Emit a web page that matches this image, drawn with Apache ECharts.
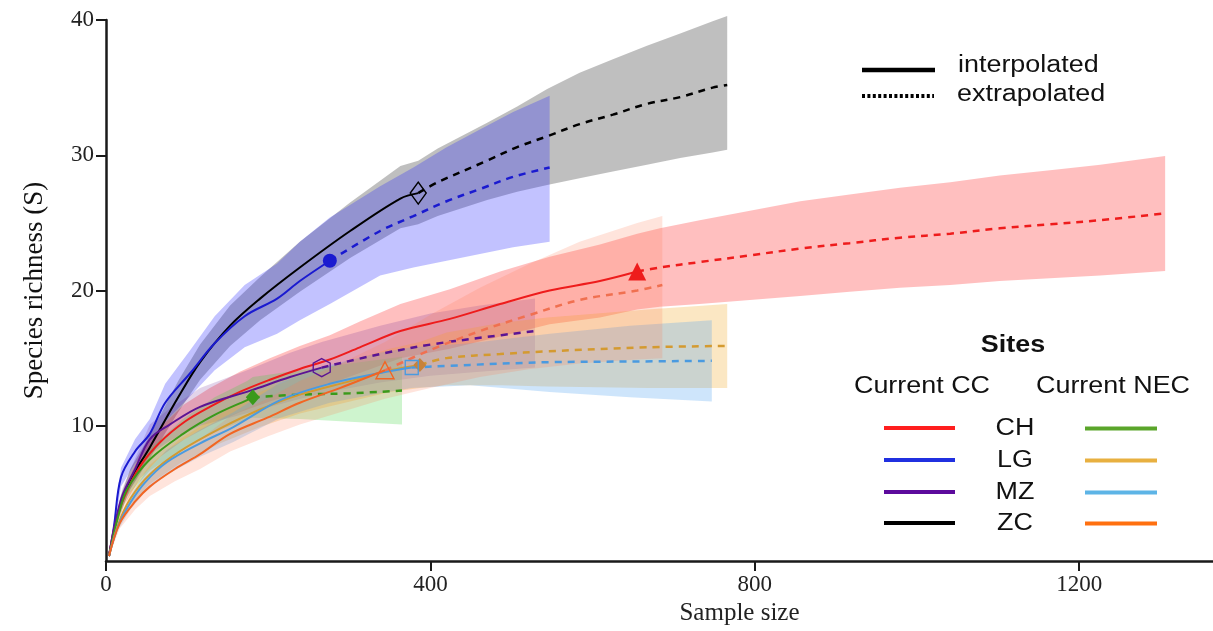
<!DOCTYPE html>
<html><head><meta charset="utf-8">
<script src="https://cdn.jsdelivr.net/npm/echarts@6/dist/echarts.min.js"></script>
<style>html,body{margin:0;padding:0;background:#fff}#c{width:1213px;height:631px}</style>
</head><body><div id="c"></div>
<script>
// ---------- data (x = sample size, y = species richness) ----------
// index *_split = last interpolated point (reference sample), rest extrapolated
const chCC_x    = [3.7,11,23,42,67,97,128,165,202,239,276,313,363,424,486,547,609,655,683,732,794,856,917,979,1041,1102,1164,1226,1306];
const chCC_mean = [0.37,2.6,4.8,7.0,8.8,10.3,11.4,12.5,13.4,14.2,14.9,15.8,17.0,17.9,19.0,20.0,20.7,21.4,21.7,22.1,22.6,23.1,23.5,23.9,24.2,24.6,24.9,25.2,25.7];
const chCC_lo   = [0.37,2.3,4.2,6.1,7.7,9.0,10.0,11.0,11.8,12.5,13.1,13.9,15.0,15.7,16.6,17.5,18.0,18.6,18.8,19.0,19.3,19.6,19.9,20.2,20.4,20.7,20.9,21.1,21.45];
const chCC_hi   = [0.37,2.9,5.4,7.9,9.9,11.6,12.8,14.0,15.0,15.9,16.7,17.7,19.0,20.1,21.4,22.5,23.4,24.2,24.6,25.2,25.9,26.6,27.1,27.6,28.0,28.5,28.9,29.3,29.95];
const chCC_split = 17;

const lgCC_x    = [3.7,9.9,18.5,35.8,54,73,104,134,171,211,239,276,338,379,420,461,502,547];
const lgCC_mean = [0.37,2.6,6.2,8.1,9.4,11.7,13.9,16.1,18.1,19.4,20.7,22.2,24.4,25.5,26.6,27.5,28.4,29.1];
const lgCC_lo   = [0.37,2.2,5.5,7.2,8.3,10.3,12.2,14.1,15.8,16.8,17.8,19.0,21.1,21.7,22.2,22.7,23.2,23.6];
const lgCC_hi   = [0.37,3.0,6.9,9.0,10.5,13.1,15.6,18.1,20.4,22.0,23.6,25.4,27.7,29.1,30.6,31.9,33.2,34.4];
const lgCC_split = 11;

const mzCC_x    = [3.7,11,20,36,54,79,116,178,227,266,338,400,461,529];
const mzCC_mean = [0.37,2.7,4.8,6.8,9.0,10.1,11.4,12.6,13.6,14.3,15.3,16.0,16.5,17.0];
const mzCC_lo   = [0.37,2.4,4.3,6.0,7.9,8.9,10.0,11.0,11.8,12.4,13.2,13.7,14.0,14.3];
const mzCC_hi   = [0.37,3.0,5.3,7.6,10.1,11.3,12.8,14.2,15.4,16.2,17.4,18.3,18.9,19.4];
const mzCC_split = 9;

const zcCC_x    = [3.7,17,30,54,89,116,153,190,239,301,363,385,409,470,507,544,584,625,667,708,748,766];
const zcCC_mean = [0.37,4.0,6.0,8.4,12.1,14.7,17.4,19.4,21.7,24.4,26.8,27.2,28.0,29.6,30.6,31.4,32.3,33.0,33.8,34.3,35.0,35.2];
const zcCC_lo   = [0.37,3.5,5.3,7.6,11.0,13.4,15.9,17.8,19.9,22.4,24.6,24.9,25.5,26.7,27.3,27.8,28.3,28.8,29.3,29.8,30.2,30.4];
const zcCC_hi   = [0.37,4.6,6.8,9.3,13.3,16.0,18.9,21.0,23.6,26.5,29.2,29.6,30.5,32.4,33.6,34.9,36.1,37.1,38.1,39.0,39.9,40.3];
const zcCC_split = 11;

const chNEC_x    = [3.7,15,26,54,95,134,174,181,239,301,365];
const chNEC_mean = [0.37,3.3,5.3,7.5,9.4,10.8,11.9,12.1,12.3,12.4,12.6];
const chNEC_lo   = [0.37,3.0,4.8,6.7,8.3,9.5,10.5,10.6,10.5,10.3,10.1];
const chNEC_hi   = [0.37,3.6,5.8,8.3,10.5,12.1,13.3,13.6,14.1,14.6,15.1];
const chNEC_split = 7;

const lgNEC_x    = [3.7,15,30,54,91,141,190,239,301,350,387,420,486,544,667,766];
const lgNEC_mean = [0.37,2.7,4.6,6.4,8.1,9.8,11.2,12.3,13.3,14.1,14.5,15.0,15.3,15.5,15.8,15.9];
const lgNEC_lo   = [0.37,2.4,4.1,5.7,7.2,8.7,9.9,10.9,11.8,12.5,12.8,13.0,13.0,12.9,12.8,12.8];
const lgNEC_hi   = [0.37,3.0,5.1,7.1,9.0,10.9,12.5,13.7,14.8,15.7,16.2,16.9,17.6,18.0,18.6,19.0];
const lgNEC_split = 10;

const mzNEC_x    = [3.7,15,30,48,75,116,157,215,276,338,377,449,547,646,747];
const mzNEC_mean = [0.37,2.6,4.3,5.8,7.3,8.7,9.9,11.9,13.1,13.9,14.3,14.5,14.7,14.75,14.8];
const mzNEC_lo   = [0.37,2.3,3.8,5.1,6.4,7.7,8.8,10.6,11.7,12.4,12.8,13.0,12.5,12.1,11.8];
const mzNEC_hi   = [0.37,2.9,4.8,6.5,8.2,9.7,11.0,13.2,14.5,15.4,15.8,16.1,16.8,17.4,17.8];
const mzNEC_split = 10;

const zcNEC_x    = [3.7,17,36,54,85,116,153,199,239,289,344,400,461,523,584,655,686];
const zcNEC_mean = [0.37,2.8,4.4,5.5,6.8,7.9,9.4,10.6,11.7,12.8,14.1,15.6,17.0,18.2,19.3,20.0,20.4];
const zcNEC_lo   = [0.37,2.4,3.8,4.8,5.9,6.8,8.1,9.2,10.1,11.0,12.0,12.8,13.6,14.2,14.6,14.9,15.0];
const zcNEC_hi   = [0.37,3.2,5.0,6.2,7.7,9.0,10.7,12.0,13.3,14.6,16.2,18.2,20.2,22.0,23.6,25.0,25.5];
const zcNEC_split = 10;

const siteNames  = ['CH','LG','MZ','ZC'];
const groupNames = ['Current CC','Current NEC'];
const xTicks = [0,400,800,1200];
const yTicks = [10,20,30,40];

// ---------- styling ----------
const sites = [
  {x:zcCC_x, m:zcCC_mean, lo:zcCC_lo, hi:zcCC_hi, s:zcCC_split, line:'#000000', band:'rgba(0,0,0,0.25)', sym:'diamond', size:[16,22], fill:false},
  {x:lgCC_x, m:lgCC_mean, lo:lgCC_lo, hi:lgCC_hi, s:lgCC_split, line:'#1a1ad0', band:'rgba(30,30,255,0.27)', sym:'circle', size:14, fill:true},
  {x:chCC_x, m:chCC_mean, lo:chCC_lo, hi:chCC_hi, s:chCC_split, line:'#ee1c1c', band:'rgba(255,0,0,0.25)', sym:'triangle', size:[18,18], fill:true},
  {x:mzCC_x, m:mzCC_mean, lo:mzCC_lo, hi:mzCC_hi, s:mzCC_split, line:'#5b1494', band:'rgba(110,40,150,0.2)', sym:'path://M50 0 L93.3 25 L93.3 75 L50 100 L6.7 75 L6.7 25 Z', size:[17,18], fill:false},
  {x:chNEC_x, m:chNEC_mean, lo:chNEC_lo, hi:chNEC_hi, s:chNEC_split, line:'#3a9a1a', band:'rgba(60,210,60,0.25)', sym:'diamond', size:[14,16], fill:true},
  {x:lgNEC_x, m:lgNEC_mean, lo:lgNEC_lo, hi:lgNEC_hi, s:lgNEC_split, line:'#d49a30', band:'rgba(240,170,40,0.28)', sym:'diamond', size:[13,14], fill:true, mcol:'#c8823a'},
  {x:mzNEC_x, m:mzNEC_mean, lo:mzNEC_lo, hi:mzNEC_hi, s:mzNEC_split, line:'#4a9ae0', band:'rgba(80,160,240,0.28)', sym:'rect', size:[13,14], fill:false},
  {x:zcNEC_x, m:zcNEC_mean, lo:zcNEC_lo, hi:zcNEC_hi, s:zcNEC_split, line:'#f26522', band:'rgba(255,120,80,0.2)', sym:'triangle', size:[18,17], fill:false, dcol:'#f07050'}
];

const series = [];
sites.forEach(st => {
  const pts = st.x.map((x,i)=>[x, st.lo[i], st.hi[i]]);
  series.push({
    type:'custom', silent:true, z:1, clip:false, data:pts, encode:{x:0,y:[1,2]},
    renderItem:(params, api)=>{
      if (params.dataIndex !== 0) return null;
      const poly=[];
      for (let i=0;i<pts.length;i++) poly.push(api.coord([pts[i][0], pts[i][2]]));
      for (let i=pts.length-1;i>=0;i--) poly.push(api.coord([pts[i][0], pts[i][1]]));
      return {type:'polygon', shape:{points:poly, smooth:0}, style:{fill:st.band}};
    }
  });
});
sites.forEach(st => {
  const all = st.x.map((x,i)=>[x, st.m[i]]);
  series.push({type:'line', z:3, data:all.slice(0, st.s+1), showSymbol:false, silent:true, clip:false,
    smooth:0.35, lineStyle:{color:st.line, width:2}});
  series.push({type:'line', z:3, data:all.slice(st.s), showSymbol:false, silent:true, clip:false,
    smooth:0.35, lineStyle:{color:st.dcol||st.line, width:2.5, type:[7,6]}});
});
sites.forEach(st => {
  series.push({type:'scatter', z:5, silent:true, data:[[st.x[st.s], st.m[st.s]]],
    symbol:st.sym, symbolSize:st.size,
    itemStyle: st.fill ? {color:st.mcol||st.line, opacity:1}
                       : {color:'rgba(255,255,255,0)', borderColor:st.line, borderWidth:1.4, opacity:1}});
});

// ---------- legend graphics ----------
const SANS = '"Liberation Sans", Arial, sans-serif';
function txt(x,y,t,opt){
  opt = opt||{};
  return {type:'text', x:x, y:y, scaleX:opt.sx||1.17, z:100,
    style:{text:t, fontSize:opt.fs||23, fontFamily:SANS, fontWeight:opt.fw||'normal', fill:'#111',
      align:opt.align||'left', verticalAlign:'middle'}};
}
const legendCC  = ['#ff1e1e','#2030e0','#5c0a9c','#000000'];
const legendNEC = ['#5aa52a','#e8b040','#5db4e6','#ff7010'];
const rowY = [428,460,492,523];
const graphics = [
  {type:'line', z:100, shape:{x1:862,y1:70,x2:935,y2:70}, style:{stroke:'#000', lineWidth:4.5}},
  {type:'line', z:100, shape:{x1:862,y1:96,x2:934,y2:96}, style:{stroke:'#000', lineWidth:4, lineDash:[3,2.4]}},
  txt(958,66,'interpolated'),
  txt(957,95,'extrapolated'),
  txt(1013,346,'Sites',{fw:'bold',align:'center'}),
  txt(922,387,groupNames[0],{align:'center'}),
  txt(1113,387,groupNames[1],{align:'center'})
];
siteNames.forEach((n,i)=>{
  graphics.push({type:'line', z:100, shape:{x1:884,y1:rowY[i],x2:955,y2:rowY[i]}, style:{stroke:legendCC[i], lineWidth:4}});
  graphics.push({type:'line', z:100, shape:{x1:1085,y1:rowY[i]+0.5,x2:1157,y2:rowY[i]+0.5}, style:{stroke:legendNEC[i], lineWidth:4}});
  graphics.push(txt(1015,rowY[i]+1,n,{align:'center'}));
});

const SERIF = '"Liberation Serif", "Times New Roman", serif';
const chart = echarts.init(document.getElementById('c'), null, {renderer:'canvas'});
chart.setOption({
  animation:false,
  backgroundColor:'#fff',
  grid:{left:106, right:0, top:20, bottom:66, containLabel:false},
  xAxis:{type:'value', min:0, max:1365, interval:400,
    axisLine:{onZero:true, lineStyle:{color:'#1a1a1a', width:2.5}},
    axisTick:{show:true, length:10, lineStyle:{color:'#1a1a1a', width:2}, customValues:xTicks},
    axisLabel:{customValues:xTicks, formatter:v=>String(v), fontFamily:SERIF, fontSize:23, color:'#222', margin:12},
    splitLine:{show:false},
    name:'Sample size', nameLocation:'middle', nameGap:40,
    nameTextStyle:{fontFamily:SERIF, fontSize:25, color:'#222', padding:[0,0,0,160]}},
  yAxis:{type:'value', min:0, max:40, interval:10,
    axisLine:{show:true, onZero:true, lineStyle:{color:'#1a1a1a', width:2.5}},
    axisTick:{show:true, length:10, lineStyle:{color:'#1a1a1a', width:2}, customValues:yTicks},
    axisLabel:{customValues:yTicks, formatter:v=>String(v), fontFamily:SERIF, fontSize:23, color:'#222', margin:12},
    splitLine:{show:false},
    name:'Species richness (S)', nameLocation:'middle', nameGap:58, nameRotate:90,
    nameTextStyle:{fontFamily:SERIF, fontSize:27, color:'#111'}},
  graphic:graphics,
  series:series
});
</script></body></html>
